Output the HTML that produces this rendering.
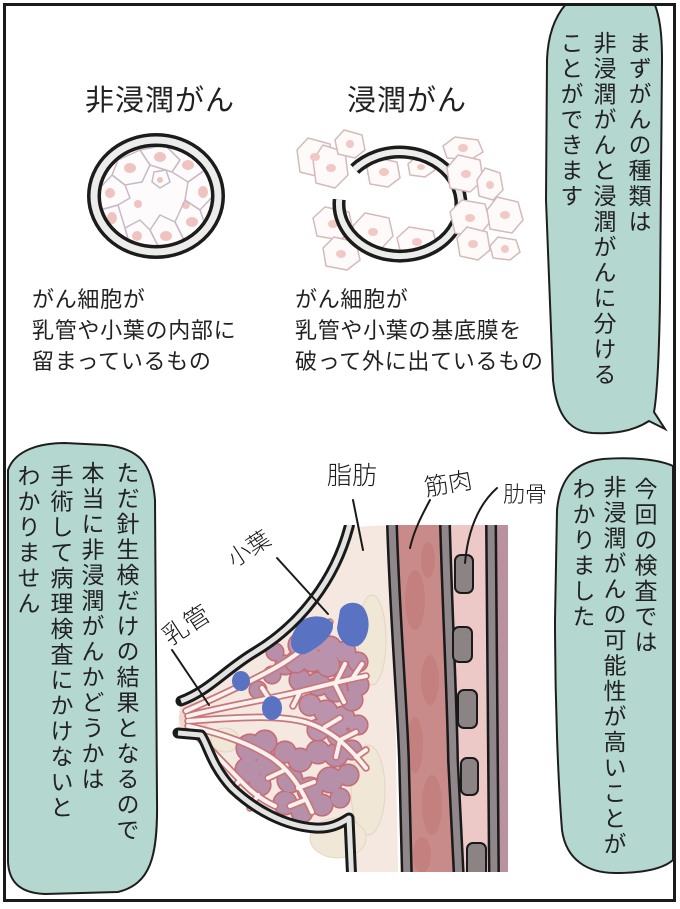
<!DOCTYPE html>
<html><head><meta charset="utf-8">
<style>
html,body{margin:0;padding:0;background:#fff;}
#wrap{position:relative;width:680px;height:909px;overflow:hidden;background:#fff;}
svg{position:absolute;left:0;top:0;}
.v{position:absolute;writing-mode:vertical-rl;font-family:"Liberation Sans","Noto Sans CJK JP",sans-serif;font-size:23px;line-height:23px;letter-spacing:2.5px;color:#222;white-space:nowrap;}
.h{position:absolute;font-family:"Liberation Sans","Noto Sans CJK JP",sans-serif;font-size:22px;line-height:31px;letter-spacing:0.7px;color:#222;white-space:nowrap;}
.t{position:absolute;font-family:"Liberation Sans","Noto Sans CJK JP",sans-serif;font-size:29px;line-height:29px;letter-spacing:1px;color:#222;white-space:nowrap;}
</style></head>
<body><div id="wrap">
<svg width="680" height="909" viewBox="0 0 680 909">
<defs>
  <clipPath id="fr"><rect x="4" y="4" width="671" height="897"/></clipPath>
  <clipPath id="ch"><rect x="0" y="525" width="680" height="347"/></clipPath>
  <clipPath id="ni"><ellipse cx="156" cy="196" rx="56" ry="50"/></clipPath>
  <g id="ducts" fill="none">
    <path d="M186 711 C215 698,250 682,275 668 C295 657,312 642,328 628"/>
    <path d="M188 716 C225 706,265 700,298 692 C322 686,345 680,366 676"/>
    <path d="M188 721 C230 718,275 714,305 722 C332 730,350 748,366 768"/>
    <path d="M188 726 C218 733,248 742,272 758 C292 772,302 790,312 812"/>
    <path d="M190 730 C205 742,222 762,245 785 C252 792,262 800,275 806"/>
    <path d="M318 637 L308 624 M318 637 L330 622"/>
    <path d="M335 684 L345 664 M335 684 L344 702 M352 679 L362 664"/>
    <path d="M325 727 L340 718 M340 740 L356 732 M340 740 L336 757 M356 757 L366 750"/>
    <path d="M285 770 L268 778 M298 788 L314 782 M305 800 L290 806"/>
    <path d="M258 795 L250 808 M240 780 L232 790 M300 692 L293 706 M270 700 L262 688"/>
  </g>
  <g id="skin" fill="none">
    <path d="M352 512 L349 527 C335 580,300 625,255 652 C225 670,210 690,181 701"/>
    <path d="M178 733 L201 735 C208 745,211 765,232 788 C255 810,285 826,315 828 C330 829,340 824,349 818 L352 885"/>
  </g>
  <g id="c1"><circle cx="300" cy="645" r="11"/><circle cx="315" cy="640" r="10"/><circle cx="330" cy="648" r="11"/><circle cx="345" cy="652" r="10"/><circle cx="358" cy="662" r="9"/><circle cx="296" cy="662" r="10"/><circle cx="312" cy="660" r="11"/><circle cx="328" cy="665" r="11"/></g>
  <g id="c2"><circle cx="345" cy="672" r="11"/><circle cx="358" cy="685" r="10"/><circle cx="300" cy="680" r="10"/><circle cx="318" cy="684" r="11"/><circle cx="336" cy="690" r="11"/><circle cx="352" cy="700" r="10"/></g>
  <g id="c3"><circle cx="275" cy="652" r="8"/><circle cx="285" cy="665" r="9"/><circle cx="272" cy="675" r="8"/><circle cx="258" cy="690" r="8"/></g>
  <g id="c4"><circle cx="310" cy="705" r="10"/><circle cx="326" cy="712" r="11"/><circle cx="343" cy="718" r="11"/><circle cx="358" cy="725" r="9"/><circle cx="318" cy="730" r="10"/><circle cx="338" cy="735" r="10"/></g>
  <g id="c5"><circle cx="250" cy="748" r="13"/><circle cx="265" cy="742" r="11"/><circle cx="248" cy="770" r="12"/><circle cx="268" cy="765" r="12"/><circle cx="260" cy="785" r="10"/></g>
  <g id="c6"><circle cx="285" cy="752" r="10"/><circle cx="300" cy="760" r="11"/><circle cx="318" cy="752" r="11"/><circle cx="336" cy="755" r="11"/><circle cx="352" cy="750" r="9"/></g>
  <g id="c7"><circle cx="290" cy="780" r="12"/><circle cx="310" cy="790" r="12"/><circle cx="330" cy="780" r="12"/><circle cx="348" cy="775" r="10"/><circle cx="285" cy="803" r="11"/><circle cx="302" cy="812" r="10"/><circle cx="322" cy="805" r="10"/><circle cx="340" cy="798" r="9"/></g>
</defs>

<!-- speech bubbles -->
<g clip-path="url(#fr)" fill="#b4d7cf" stroke="#1e1e1e" stroke-width="2">
  <path d="M546 200 L547 60 C548 32,556 12,572 -2 L652 -2 C660 14,662 34,662 60 L660 300 C659 360,657 395,654 412 L665 429 L649 421 C632 432,612 434,592 433 C566 431,556 410,553 380 Z"/>
  <path d="M8 470 C15 450,40 443,65 443 L105 445 C138 448,152 462,155 500 L157 800 C158 858,150 884,118 892 L45 894 C20 893,9 882,8 862 Z"/>
  <path d="M673 466 C658 459,630 457,603 459 C575 462,560 478,557 510 L555 620 C555 700,558 780,562 830 C566 860,588 873,615 873 C645 873,664 868,673 860 Z"/>
</g>

<!-- non-invasive -->
<g clip-path="url(#ni)">
  <rect x="95" y="140" width="125" height="115" fill="#fdfbfb"/>
  <g fill="#efc3bf">
    <ellipse cx="130" cy="168" rx="6" ry="5"/><ellipse cx="160" cy="157" rx="6" ry="5"/>
    <ellipse cx="188" cy="165" rx="6" ry="5"/><ellipse cx="203" cy="192" rx="5" ry="6"/>
    <ellipse cx="192" cy="222" rx="6" ry="5"/><ellipse cx="166" cy="236" rx="6" ry="5"/>
    <ellipse cx="137" cy="236" rx="5" ry="5"/><ellipse cx="112" cy="218" rx="5" ry="6"/>
    <ellipse cx="110" cy="193" rx="5" ry="5"/><ellipse cx="160" cy="180" rx="3" ry="3"/>
    <ellipse cx="186" cy="205" rx="4" ry="4"/><ellipse cx="138" cy="204" rx="4" ry="4"/>
  </g>
  <g fill="none" stroke="#c9b9c6" stroke-width="1.5" stroke-linejoin="round">
    <polygon points="118,160 140,150 150,165 142,182 125,185 112,175"/>
    <polygon points="140,150 165,145 180,160 172,172 150,165"/>
    <polygon points="165,145 195,150 205,170 188,182 172,172 180,160"/>
    <polygon points="205,170 214,195 200,210 185,200 188,182"/>
    <polygon points="200,210 207,230 185,242 175,222 185,200"/>
    <polygon points="175,222 185,242 160,250 150,230 160,215"/>
    <polygon points="150,230 160,250 130,246 125,228 140,220"/>
    <polygon points="125,228 130,246 106,234 100,210 118,205"/>
    <polygon points="100,210 118,205 130,198 125,185 112,175 98,190"/>
    <polygon points="154,172 166,170 170,182 160,188 152,182"/>
  </g>
</g>
<ellipse cx="156" cy="196" rx="62" ry="56" fill="none" stroke="#1c1c1c" stroke-width="14"/>
<ellipse cx="156" cy="196" rx="62" ry="56" fill="none" stroke="#ececea" stroke-width="7"/>

<!-- invasive -->
<g fill="#fefafa" stroke="#d3babb" stroke-width="1.5" stroke-linejoin="round">
  <polygon points="308,138 330,144 333,165 320,177 300,172 297,150"/>
  <polygon points="323,145 345,152 348,175 335,188 316,183 313,160"/>
  <polygon points="344,130 362,135 365,150 355,158 338,154 335,140"/>
  <polygon points="377,158 397,162 400,178 388,187 370,184 367,168"/>
  <polygon points="416,157 432,160 435,170 425,177 410,175 408,164"/>
  <polygon points="325,207 349,212 353,230 340,240 317,236 313,218"/>
  <polygon points="334,237 356,242 360,260 347,270 326,266 323,248"/>
  <polygon points="365,213 389,218 393,236 380,250 357,246 353,226"/>
  <polygon points="409,227 433,231 437,246 425,257 401,254 397,238"/>
</g>
<g fill="#f1c8c4">
  <ellipse cx="315" cy="157" rx="5" ry="4"/><ellipse cx="331" cy="168" rx="5" ry="4"/>
  <ellipse cx="350" cy="144" rx="4" ry="4"/><ellipse cx="384" cy="172" rx="5" ry="4"/>
  <ellipse cx="421" cy="167" rx="4" ry="3"/><ellipse cx="333" cy="224" rx="5" ry="4"/>
  <ellipse cx="341" cy="254" rx="5" ry="4"/><ellipse cx="373" cy="232" rx="5" ry="4"/>
  <ellipse cx="417" cy="242" rx="5" ry="4"/>
</g>
<path d="M354.7 169.2 A61 52 0 1 1 339.2 199.5" fill="none" stroke="#1c1c1c" stroke-width="13"/>
<path d="M354.7 169.2 A61 52 0 1 1 339.2 199.5" fill="none" stroke="#ececea" stroke-width="6"/>
<g fill="#fefafa" stroke="#d3babb" stroke-width="1.5" stroke-linejoin="round">
  <polygon points="455,137 478,140 483,152 470,160 447,158 443,146"/>
  <polygon points="458,155 480,160 483,180 470,192 450,188 447,168"/>
  <polygon points="485,168 500,173 503,190 493,200 479,196 477,180"/>
  <polygon points="462,200 485,204 490,222 478,237 455,233 450,212"/>
  <polygon points="497,197 518,202 523,220 512,233 490,229 487,210"/>
  <polygon points="467,227 487,232 490,250 478,260 460,256 457,238"/>
  <polygon points="498,237 516,240 520,252 510,260 493,258 490,246"/>
</g>
<g fill="#f1c8c4">
  <ellipse cx="463" cy="148" rx="5" ry="4"/><ellipse cx="466" cy="174" rx="5" ry="4"/>
  <ellipse cx="490" cy="185" rx="4" ry="4"/><ellipse cx="470" cy="218" rx="5" ry="4"/>
  <ellipse cx="505" cy="215" rx="5" ry="4"/><ellipse cx="473" cy="244" rx="5" ry="4"/>
  <ellipse cx="505" cy="249" rx="4" ry="4"/>
</g>

<!-- breast diagram -->
<g clip-path="url(#ch)">
  <path d="M349 527 C335 580,300 625,255 652 C225 670,210 690,180 700 L178 734 L201 735 C208 745,211 765,232 788 C255 810,285 826,315 828 C330 829,340 824,349 818 L352 872 L398 872 L392 525 Z" fill="#f4e8e0"/>
  <ellipse cx="194" cy="718" rx="15" ry="16" fill="#f1d8d0"/>
  <g fill="#f0e7d6" stroke="#e2d6c0" stroke-width="1">
    <ellipse cx="372" cy="640" rx="14" ry="45"/>
    <ellipse cx="368" cy="790" rx="17" ry="45"/>
    <ellipse cx="338" cy="838" rx="28" ry="20"/>
    <ellipse cx="225" cy="740" rx="14" ry="12"/>
  </g>
  <!-- lobule clusters: outline pass then fill pass -->
  <use href="#c5" fill="#c56d75" stroke="#c56d75" stroke-width="3.2"/><use href="#c5" fill="#b88fa9"/>
  <use href="#c7" fill="#c56d75" stroke="#c56d75" stroke-width="3.2"/><use href="#c7" fill="#b690a8"/>
  <use href="#c6" fill="#c56d75" stroke="#c56d75" stroke-width="3.2"/><use href="#c6" fill="#b88fa9"/>
  <use href="#c4" fill="#c56d75" stroke="#c56d75" stroke-width="3.2"/><use href="#c4" fill="#bb93ac"/>
  <use href="#c3" fill="#c56d75" stroke="#c56d75" stroke-width="3.2"/><use href="#c3" fill="#b88fa9"/>
  <use href="#c2" fill="#c56d75" stroke="#c56d75" stroke-width="3.2"/><use href="#c2" fill="#b88fa9"/>
  <use href="#c1" fill="#c56d75" stroke="#c56d75" stroke-width="3.2"/><use href="#c1" fill="#ba92ab"/>
  <use href="#ducts" stroke="#c8777b" stroke-width="7.5" stroke-linecap="round" stroke-linejoin="round"/>
  <use href="#ducts" stroke="#fbf1ee" stroke-width="4" stroke-linecap="round" stroke-linejoin="round"/>
  <g fill="#5a72c2">
    <path d="M340 610 C345 600,362 600,366 612 C371 622,369 640,358 646 C348 649,338 641,337 628 Z"/>
    <path d="M296 628 C300 616,322 612,332 622 C337 632,322 646,305 654 C292 656,286 642,296 628 Z"/>
    <ellipse cx="241" cy="681" rx="9" ry="10"/>
    <ellipse cx="272" cy="708" rx="10" ry="12"/>
  </g>
  <!-- muscle -->
  <path d="M392 525 C395 620,402 700,404 760 L407 872 L459 872 L453 760 C452 700,447 600,445 525 Z" fill="#c98b89"/>
  <g fill="#b86e6f" opacity="0.35">
    <ellipse cx="415" cy="600" rx="10" ry="30"/><ellipse cx="430" cy="680" rx="9" ry="25"/>
    <ellipse cx="415" cy="745" rx="8" ry="28"/><ellipse cx="432" cy="805" rx="10" ry="30"/>
    <ellipse cx="422" cy="855" rx="9" ry="18"/><ellipse cx="428" cy="560" rx="7" ry="18"/>
  </g>
  <path d="M445 525 C447 600,452 700,453 760 L459 872 L494 872 L491 525 Z" fill="#ecc8c6"/>
  <rect x="497" y="525" width="11" height="347" fill="#b9919f"/>
  <g fill="none" stroke="#1a1a1a" stroke-width="12">
    <path d="M392 525 C395 620,402 700,404 760 L407 880"/>
    <path d="M445 525 C447 600,452 700,453 760 L459 880"/>
    <path d="M491 520 L494 880"/>
  </g>
  <g fill="none" stroke="#8f8789" stroke-width="7">
    <path d="M392 525 C395 620,402 700,404 760 L407 880"/>
    <path d="M445 525 C447 600,452 700,453 760 L459 880"/>
    <path d="M491 520 L494 880"/>
  </g>
  <g fill="#8c8385" stroke="#1a1a1a" stroke-width="2">
    <rect x="455" y="555" width="18" height="38" rx="6"/>
    <rect x="453" y="627" width="19" height="35" rx="6"/>
    <rect x="458" y="690" width="19" height="38" rx="6"/>
    <rect x="461" y="758" width="17" height="37" rx="6"/>
    <rect x="467" y="843" width="19" height="45" rx="6"/>
  </g>
  <use href="#skin" stroke="#1a1a1a" stroke-width="11" stroke-linecap="round" stroke-linejoin="round"/>
  <use href="#skin" stroke="#e3e3e1" stroke-width="5" stroke-linecap="butt" stroke-linejoin="round"/>
</g>

<!-- leader lines -->
<g fill="none" stroke="#1a1a1a" stroke-width="2" stroke-linecap="round">
  <path d="M353 500 L363 550"/>
  <path d="M430 500 C422 515,414 530,410 548"/>
  <path d="M497 488 C478 505,468 530,465 563"/>
  <path d="M277 558 L328 614"/>
  <path d="M172 650 L209 705"/>
</g>
<g font-family="Liberation Sans, Noto Sans CJK JP, sans-serif" fill="#1a1a1a" font-weight="300">
  <text x="327" y="484" font-size="25">脂肪</text>
  <text x="426" y="496" font-size="24" transform="rotate(-10 426 496)">筋肉</text>
  <text x="503" y="502" font-size="22">肋骨</text>
  <text x="234" y="568" font-size="23" transform="rotate(-33 234 568)">小葉</text>
  <text x="170" y="646" font-size="25" transform="rotate(-33 170 646)">乳管</text>
</g>

<!-- frame -->
<rect x="4.5" y="4.5" width="670" height="896" fill="none" stroke="#1a1a1a" stroke-width="3"/>
</svg>

<div class="t" style="left:85px;top:87px;">非浸潤がん</div>
<div class="t" style="left:347px;top:87px;">浸潤がん</div>

<div class="h" style="left:32px;top:284px;">がん細胞が<br>乳管や小葉の内部に<br>留まっているもの</div>
<div class="h" style="left:295px;top:284px;">がん細胞が<br>乳管や小葉の基底膜を<br>破って外に出ているもの</div>

<div class="v" style="left:626px;top:31px;">まずがんの種類は</div>
<div class="v" style="left:591px;top:31px;">非浸潤がんと浸潤がんに分ける</div>
<div class="v" style="left:558px;top:31px;">ことができます</div>

<div class="v" style="left:114px;top:461px;">ただ針生検だけの結果となるので</div>
<div class="v" style="left:79px;top:461px;">本当に非浸潤がんかどうかは</div>
<div class="v" style="left:48px;top:464px;">手術して病理検査にかけないと</div>
<div class="v" style="left:15px;top:464px;">わかりません</div>

<div class="v" style="left:632px;top:477px;">今回の検査では</div>
<div class="v" style="left:601px;top:475px;">非浸潤がんの可能性が高いことが</div>
<div class="v" style="left:570px;top:477px;">わかりました</div>
</div></body></html>
